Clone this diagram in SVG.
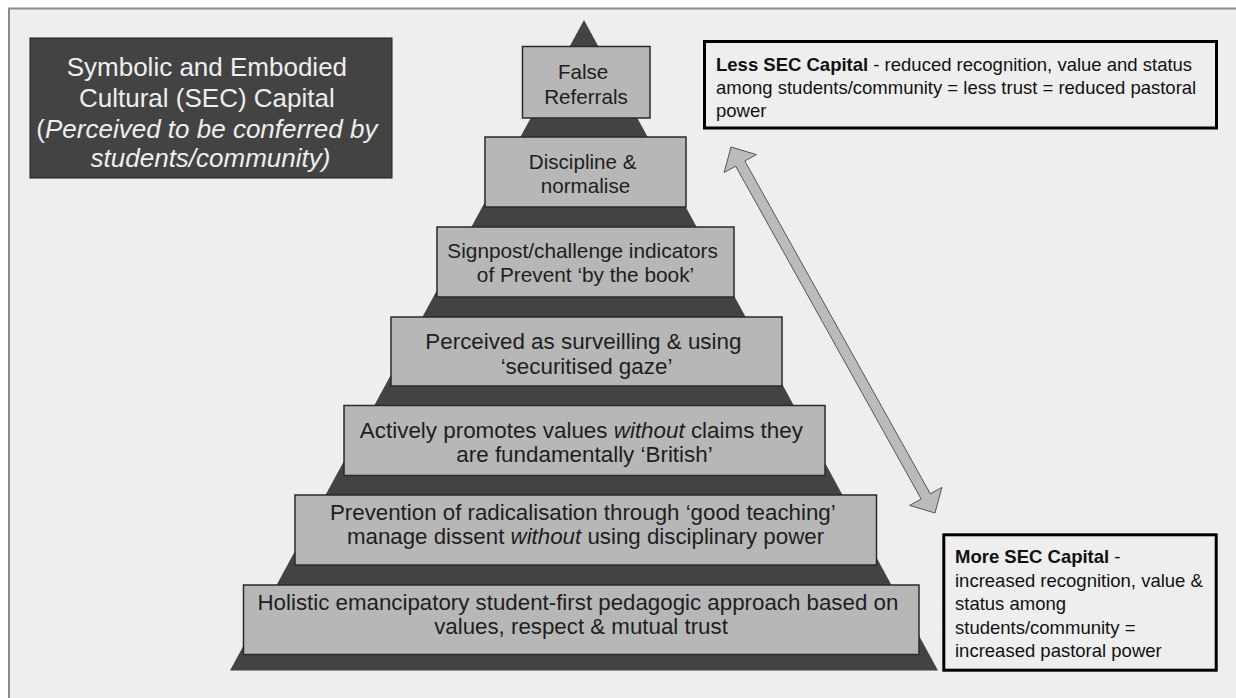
<svg xmlns="http://www.w3.org/2000/svg" width="1236" height="698" viewBox="0 0 1236 698">
  <style>
    .sans { font-family: "Liberation Sans", Arial, sans-serif; }
    .step { fill: #b7b7b7; stroke: #2a2a2a; stroke-width: 1.5; }
    .steptext { fill: #1e1e1e; text-anchor: middle; }
    .note { fill: #eeeeee; stroke: #000000; stroke-width: 3; }
    .notetext { fill: #111111; font-size: 18.5px; }
    .b { font-weight: bold; }
    .i { font-style: italic; }
  </style>

  <!-- page and frame -->
  <rect x="0" y="0" width="1236" height="698" fill="#ffffff"/>
  <rect x="9" y="8.5" width="1240" height="700" fill="#eeeeee" stroke="#8a8a8a" stroke-width="2"/>

  <!-- title block -->
  <g id="sec-capital-title">
    <rect x="30" y="38" width="362" height="140" fill="#434343" stroke="#1a1a1a" stroke-width="1"/>
    <text class="sans" font-size="26" fill="#eeeeee" text-anchor="middle">
      <tspan x="210.5" y="76">Symbolic and Embodied</tspan>
      <tspan x="210.5" y="107">Cultural (SEC) Capital</tspan>
      <tspan x="210.5" y="137.5">(<tspan class="i">Perceived to be conferred by</tspan></tspan>
      <tspan x="210.5" y="167" class="i">students/community)</tspan>
    </text>
  </g>

  <!-- pyramid backdrop -->
  <g id="pyramid">
    <polygon points="584,20 938,670.5 230,670.5" fill="#434343"/>
  </g>

  <!-- pyramid levels, top to bottom -->
  <g id="level-false-referrals">
    <rect class="step" x="522.5" y="46.5" width="127.5" height="71.5"/>
    <text class="sans steptext" font-size="20.6">
      <tspan x="586" y="78.5">False</tspan>
      <tspan x="586" y="103.5">Referrals</tspan>
    </text>
  </g>

  <g id="level-discipline">
    <rect class="step" x="485" y="137" width="201" height="70"/>
    <text class="sans steptext" font-size="20.6">
      <tspan x="585.5" y="168.5">Discipline &amp;</tspan>
      <tspan x="585.5" y="192.5">normalise</tspan>
    </text>
  </g>

  <g id="level-signpost">
    <rect class="step" x="437" y="227" width="297" height="70"/>
    <text class="sans steptext" font-size="20.8">
      <tspan x="585.5" y="258">Signpost/challenge indicators</tspan>
      <tspan x="585.5" y="282">of Prevent ‘by the book’</tspan>
    </text>
  </g>

  <g id="level-surveilling">
    <rect class="step" x="391" y="317" width="391" height="69"/>
    <text class="sans steptext" font-size="22.4">
      <tspan x="586.5" y="348.5">Perceived as surveilling &amp; using</tspan>
      <tspan x="586.5" y="373.5">‘securitised gaze’</tspan>
    </text>
  </g>

  <g id="level-promotes-values">
    <rect class="step" x="344" y="405.5" width="481" height="70"/>
    <text class="sans steptext" font-size="22.4">
      <tspan x="584.5" y="437.5">Actively promotes values <tspan class="i">without</tspan> claims they</tspan>
      <tspan x="584.5" y="461.5">are fundamentally ‘British’</tspan>
    </text>
  </g>

  <g id="level-good-teaching">
    <rect class="step" x="295" y="495" width="581.5" height="70"/>
    <text class="sans steptext" font-size="22.3">
      <tspan x="585.5" y="519.5">Prevention of radicalisation through ‘good teaching’</tspan>
      <tspan x="585.5" y="543.5">manage dissent <tspan class="i">without</tspan> using disciplinary power</tspan>
    </text>
  </g>

  <g id="level-holistic">
    <rect class="step" x="243.5" y="585" width="675.5" height="69.5"/>
    <text class="sans steptext" font-size="22.3">
      <tspan x="581" y="610">Holistic emancipatory student-first pedagogic approach based on</tspan>
      <tspan x="581" y="634">values, respect &amp; mutual trust</tspan>
    </text>
  </g>

  <!-- outcome notes -->
  <g id="note-less-capital">
    <rect class="note" x="704.5" y="41.5" width="512" height="86.5"/>
    <text class="sans notetext">
      <tspan x="716" y="71"><tspan class="b">Less SEC Capital</tspan> - reduced recognition, value and status</tspan>
      <tspan x="716" y="94">among students/community = less trust = reduced pastoral</tspan>
      <tspan x="716" y="117">power</tspan>
    </text>
  </g>

  <g id="note-more-capital">
    <rect class="note" x="943.8" y="534.8" width="272.4" height="135.4"/>
    <text class="sans notetext">
      <tspan x="955" y="563"><tspan class="b">More SEC Capital</tspan> -</tspan>
      <tspan x="955" y="587">increased recognition, value &amp;</tspan>
      <tspan x="955" y="610">status among</tspan>
      <tspan x="955" y="634">students/community =</tspan>
      <tspan x="955" y="657">increased pastoral power</tspan>
    </text>
  </g>

  <!-- connectors -->
  <g id="connectors">
    <polygon id="scale-arrow" fill="#bbbbbb" stroke="#555555" stroke-width="1" stroke-linejoin="miter"
      points="731,147 756.4,154.6 744.8,161.0 930.3,493.8 941.9,487.4 935,513 909.6,505.4 921.2,499.0 735.7,166.2 724.1,172.6"/>
  </g>
</svg>
